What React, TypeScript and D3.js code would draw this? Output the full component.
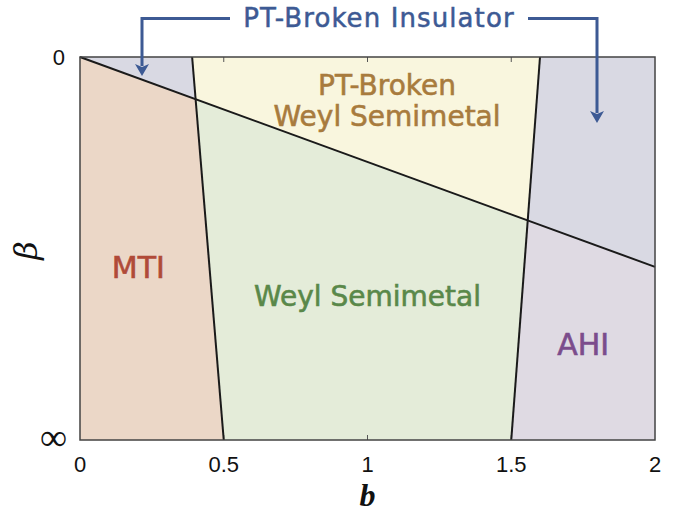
import { useEffect, useRef } from 'react';
import * as d3 from 'd3';

// b axis ticks, β axis is compactified: 0 at top, ∞ at bottom (t in [0,1])
const bTicks = [0, 0.5, 1, 1.5, 2];
const bTickLabels = ['0', '0.5', '1', '1.5', '2'];
const betaTicks = [0, 1];
const betaTickLabels = ['0', '∞'];

// phase boundaries: [b, t] endpoints
const diagonal: [number, number][] = [[0, 0], [2, 0.548]];
const leftBoundary: [number, number][] = [[0.39, 0], [0.5, 1]];
const rightBoundary: [number, number][] = [[1.6, 0], [1.5, 1]];

const regionNames = ['PTInsL', 'MTI', 'PTWeyl', 'Weyl', 'PTInsR', 'AHI'];
const regionFills = ['#d9d9e3', '#ebd7c7', '#f9f6de', '#e4ecd9', '#d9d9e3', '#dfdae3'];

// label anchor: b = centre, t = baseline
const labels = [
  { text: 'MTI', b: 0.203, t: 0.576, size: 30, color: '#b04a38' },
  { text: 'AHI', b: 1.75, t: 0.778, size: 30, color: '#7b4c8c' },
  { text: 'Weyl Semimetal', b: 1.0, t: 0.651, size: 28, color: '#598849' },
  { text: 'PT-Broken', b: 1.068, t: 0.1, size: 28, color: '#a87b3d' },
  { text: 'Weyl Semimetal', b: 1.068, t: 0.179, size: 28, color: '#a87b3d' },
];

function intersect(a: [number, number][], v: [number, number][]): [number, number] {
  // diagonal t = k*b ; boundary b = b0 + s*t
  const k = (a[1][1] - a[0][1]) / (a[1][0] - a[0][0]);
  const b0 = v[0][0];
  const s = (v[1][0] - v[0][0]) / (v[1][1] - v[0][1]);
  const b = b0 / (1 - s * k);
  return [b, k * b];
}

function draw(svgEl: SVGSVGElement) {
  const svg = d3.select(svgEl);
  svg.selectAll('*').remove();

  const x = d3.scaleLinear().domain([0, 2]).range([80, 655]);
  const y = d3.scaleLinear().domain([0, 1]).range([57, 440]);

  const iL = intersect(diagonal, leftBoundary);
  const iR = intersect(diagonal, rightBoundary);
  const dEnd = diagonal[1];

  const polys: [number, number][][] = [
    [[0, 0], leftBoundary[0], iL],
    [[0, 0], iL, leftBoundary[1], [0, 1]],
    [leftBoundary[0], rightBoundary[0], iR, iL],
    [iL, iR, rightBoundary[1], leftBoundary[1]],
    [rightBoundary[0], [2, 0], dEnd, iR],
    [iR, dEnd, [2, 1], rightBoundary[1]],
  ];

  const line = d3.line<[number, number]>().x((d) => x(d[0])).y((d) => y(d[1]));

  svg.append('g')
    .selectAll('path')
    .data(polys)
    .enter()
    .append('path')
    .attr('class', (_, i) => regionNames[i])
    .attr('d', (d) => line(d) + 'Z')
    .attr('fill', (_, i) => regionFills[i])
    .attr('stroke', (_, i) => regionFills[i])
    .attr('stroke-width', 0.5);

  // ticks inside the frame
  const ticks = svg.append('g').attr('stroke', '#555').attr('stroke-width', 1);
  bTicks.slice(1, -1).forEach((b) => {
    ticks.append('line').attr('x1', x(b)).attr('x2', x(b)).attr('y1', y(0)).attr('y2', y(0) + 5);
    ticks.append('line').attr('x1', x(b)).attr('x2', x(b)).attr('y1', y(1)).attr('y2', y(1) - 5);
  });

  [diagonal, leftBoundary, rightBoundary].forEach((seg) => {
    svg.append('path')
      .attr('d', line(seg))
      .attr('fill', 'none')
      .attr('stroke', '#1a1a1a')
      .attr('stroke-width', 2);
  });

  svg.append('rect')
    .attr('x', x(0)).attr('y', y(0))
    .attr('width', x(2) - x(0)).attr('height', y(1) - y(0))
    .attr('fill', 'none')
    .attr('stroke', '#444')
    .attr('stroke-width', 1.5);

  // tick labels
  svg.append('g')
    .selectAll('text')
    .data(bTicks)
    .enter()
    .append('text')
    .attr('x', (d) => x(d))
    .attr('y', 472)
    .attr('text-anchor', 'middle')
    .style('font-family', 'Liberation Sans, Arial, sans-serif')
    .style('font-size', '22px')
    .attr('fill', '#111')
    .text((_, i) => bTickLabels[i]);

  svg.append('g')
    .selectAll('text')
    .data(betaTicks)
    .enter()
    .append('text')
    .attr('x', (d) => (d === 0 ? 65 : 67))
    .attr('y', (d) => (d === 0 ? 65 : 450))
    .attr('text-anchor', 'end')
    .style('font-size', (d) => (d === 0 ? '22px' : '38px'))
    .style('font-family', (d) => (d === 0 ? 'Liberation Sans, Arial, sans-serif' : 'Liberation Serif, serif'))
    .attr('fill', '#111')
    .text((_, i) => betaTickLabels[i]);

  svg.append('text')
    .attr('x', x(1))
    .attr('y', 506)
    .attr('text-anchor', 'middle')
    .style('font-family', 'Liberation Serif, Times New Roman, serif')
    .style('font-style', 'italic')
    .style('font-weight', 'bold')
    .style('font-size', '32px')
    .attr('fill', '#111')
    .text('b');

  svg.append('text')
    .attr('transform', `translate(37,${y(0.5) + 2}) rotate(-90)`)
    .attr('text-anchor', 'middle')
    .style('font-family', 'DejaVu Serif, serif')
    .style('font-style', 'italic')
    .style('font-size', '32px')
    .attr('fill', '#111')
    .text('β');

  // region labels
  svg.append('g')
    .selectAll('text')
    .data(labels)
    .enter()
    .append('text')
    .attr('x', (d) => x(d.b))
    .attr('y', (d) => y(d.t))
    .attr('text-anchor', 'middle')
    .style('font-family', 'DejaVu Sans, Verdana, sans-serif')
    .style('font-size', (d) => `${d.size}px`)
    .attr('fill', (d) => d.color)
    .attr('stroke', (d) => d.color)
    .attr('stroke-width', 0.6)
    .text((d) => d.text);

  // PT-Broken Insulator annotation with arrows
  const blue = '#3d5a94';
  svg.append('text')
    .attr('x', 379)
    .attr('y', 27)
    .attr('text-anchor', 'middle')
    .style('font-family', 'DejaVu Sans, Verdana, sans-serif')
    .style('font-size', '26px')
    .style('letter-spacing', '1.1px')
    .attr('fill', blue)
    .attr('stroke', blue)
    .attr('stroke-width', 0.5)
    .text('PT-Broken Insulator');

  const arrows: { pts: [number, number][] }[] = [
    { pts: [[230, 18.5], [142, 18.5], [142, 66]] },
    { pts: [[528, 18.5], [597, 18.5], [597, 113]] },
  ];
  arrows.forEach((a) => {
    svg.append('path')
      .attr('d', d3.line()(a.pts))
      .attr('fill', 'none')
      .attr('stroke', blue)
      .attr('stroke-width', 3);
    const [tx, ty] = a.pts[2];
    svg.append('path')
      .attr('d', `M${tx - 7},${ty - 2} L${tx},${ty + 10} L${tx + 7},${ty - 2} L${tx},${ty + 1} Z`)
      .attr('fill', blue);
  });
}

export default function App() {
  const ref = useRef<SVGSVGElement>(null);
  useEffect(() => {
    if (ref.current) draw(ref.current);
  }, []);
  return (
    <svg
      ref={ref}
      width={686}
      height={519}
      style={{ position: 'absolute', left: 0, top: 0, background: '#fff' }}
    />
  );
}
